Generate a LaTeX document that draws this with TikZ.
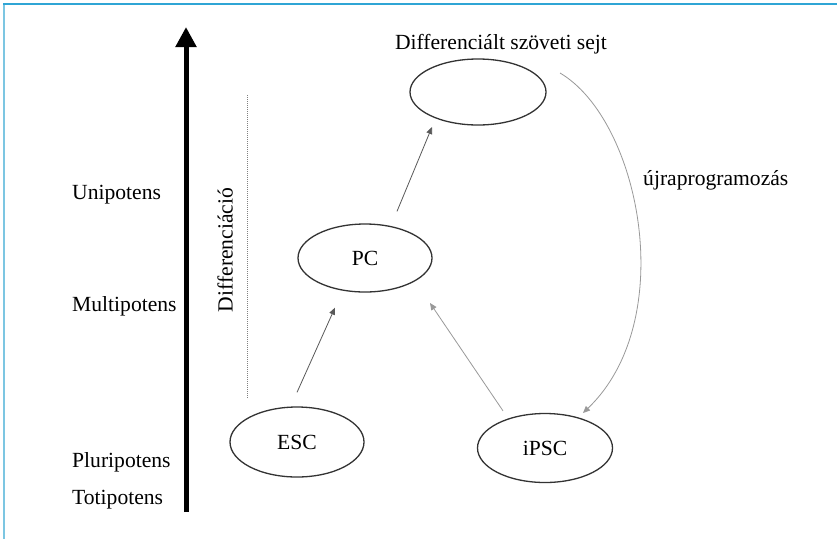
\documentclass[tikz,border=0pt]{standalone}
\usepackage{fontspec}
\setmainfont{Liberation Serif}
\usetikzlibrary{shapes.geometric,arrows.meta}
\definecolor{frameblue}{HTML}{2FA5D5}
\definecolor{frameblue2}{HTML}{7CC6E2}
\begin{document}
\begin{tikzpicture}[x=1pt,y=-1pt,
  txt/.style={font=\fontsize{21.6}{25}\selectfont, inner sep=0pt},
  cell/.style={ellipse, draw=black!80, line width=1.3pt, inner sep=0pt, font=\fontsize{21.6}{25}\selectfont},
  darr/.style={draw=black!65, line width=0.8pt, -{Triangle[length=7pt,width=6pt]}},
  larr/.style={draw=black!40, line width=0.8pt, -{Triangle[length=7pt,width=6pt]}}
]
\useasboundingbox (0,0) rectangle (837,539);
\fill[white] (0,0) rectangle (837,539);
% frame
\draw[frameblue2, line width=2pt] (4,4) -- (4,539);
\draw[frameblue, line width=2pt] (3,4) -- (837,4);

% big arrow
\coordinate (abot) at (186,512);
\coordinate (atop) at (186,27);
\draw[line width=5pt, -{Triangle[length=20pt,width=20pt]}] (abot) -- (atop);

% dotted line
\coordinate (dtop) at (247,95);
\coordinate (dbot) at (247,398);
\draw[black!50, line width=0.8pt, dash pattern=on 1pt off 1pt] (dtop) -- (dbot);
\node[txt, rotate=90] (diff) at (225,250) {Differenciáció};

% left labels
\node[txt, anchor=west] (uni) at (72,195) {Unipotens};
\node[txt, anchor=west] (multi) at (72,306) {Multipotens};
\node[txt, anchor=west] (pluri) at (72,462) {Pluripotens};
\node[txt, anchor=west] (toti) at (72,500) {Totipotens};

% cells
\node[cell, minimum width=136pt, minimum height=66pt] (top) at (478,92) {};
\node[txt] (toplab) at (501,44) {Differenciált szöveti sejt};
\node[cell, minimum width=134pt, minimum height=68pt] (PC) at (365,258) {PC};
\node[cell, minimum width=134pt, minimum height=70pt] (ESC) at (297,442) {ESC};
\node[cell, minimum width=135pt, minimum height=69pt] (iPSC) at (545,448) {iPSC};

% connectors
\draw[darr] ([yshift=14pt]ESC.north) -- ([xshift=-30pt,yshift=-15pt]PC.south);
\draw[larr] ([xshift=-42pt,yshift=2pt]iPSC.north) -- ([xshift=65pt,yshift=-45pt]PC.center);
\draw[darr] ([xshift=32pt,yshift=12pt]PC.north) -- ([xshift=-46pt,yshift=-35pt]top.center);
\draw[larr] ([xshift=82pt,yshift=19pt]top.center) .. controls (640,120) and (680,320) .. ([xshift=38pt,yshift=35pt]iPSC.center);
\node[txt, anchor=west] (reprog) at (643,180) {újraprogramozás};
\end{tikzpicture}
\end{document}
